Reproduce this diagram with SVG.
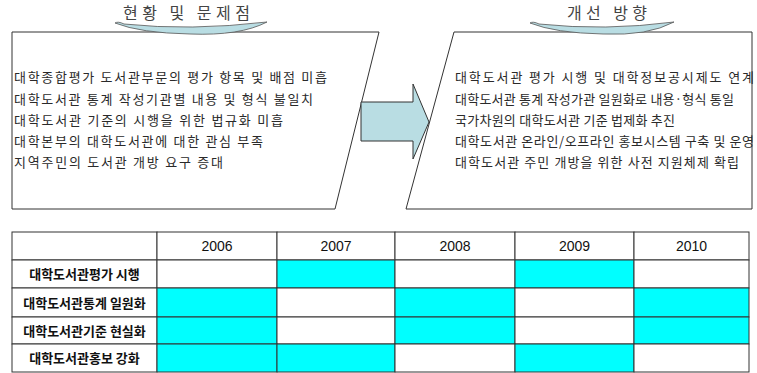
<svg xmlns="http://www.w3.org/2000/svg" width="757" height="373" viewBox="0 0 757 373">
<style>
.box{fill:#ffffff;stroke:#333333;stroke-width:1}
.swoosh{fill:#b9dde3;stroke:#555555;stroke-width:0.8}
.arrow{fill:#b9dde3;stroke:#333333;stroke-width:1}
.title{font-family:"Noto Sans CJK KR","Noto Sans",sans-serif;font-size:16px;fill:#444444}
.body{font-family:"Noto Sans CJK KR","Noto Sans",sans-serif;font-size:13px;fill:#2a2a2a}
.cell{stroke:#333333;stroke-width:1}
.on{fill:#00ffff}
.off{fill:#ffffff}
.yr{font-family:"Liberation Sans","Noto Sans CJK KR",sans-serif;font-size:14px;fill:#111111;text-anchor:middle}
.lbl{font-family:"Noto Sans CJK KR","Noto Sans",sans-serif;font-size:13px;font-weight:bold;fill:#111111;text-anchor:middle}
</style>
<rect width="757" height="373" fill="#ffffff"/>

<g id="current">
<path class="box" d="M12,32 L379,32 L335,209 L12,209 Z"/>
<path class="swoosh" d="M115,23 Q118,21 124,24 Q190,31 267,22 Q240,36 190,34 Q140,33 115,23 Z"/>
<text class="title" x="123" y="19" textLength="127" lengthAdjust="spacing">현황 및 문제점</text>
<text class="body" x="14" y="82" textLength="313" lengthAdjust="spacing">대학종합평가 도서관부문의 평가 항목 및 배점 미흡</text>
<text class="body" x="14" y="104" textLength="299" lengthAdjust="spacing">대학도서관 통계 작성기관별 내용 및 형식 불일치</text>
<text class="body" x="14" y="125" textLength="269" lengthAdjust="spacing">대학도서관 기준의 시행을 위한 법규화 미흡</text>
<text class="body" x="14" y="146" textLength="249" lengthAdjust="spacing">대학본부의 대학도서관에 대한 관심 부족</text>
<text class="body" x="14" y="167" textLength="209" lengthAdjust="spacing">지역주민의 도서관 개방 요구 증대</text>
</g>

<g id="direction">
<path class="box" d="M454,32 L752,32 L752,209 L406,209 Z"/>
<path class="swoosh" d="M530,23 Q533,21 539,24 Q605,31 674,22 Q648,36 603,34 Q555,33 530,23 Z"/>
<text class="title" x="567" y="19" textLength="80" lengthAdjust="spacing">개선 방향</text>
<text class="body" x="455" y="82" textLength="299" lengthAdjust="spacing">대학도서관 평가 시행 및 대학정보공시제도 연계</text>
<text class="body" x="455" y="104" textLength="279" lengthAdjust="spacing">대학도서관 통계 작성가관 일원화로 내용·형식 통일</text>
<text class="body" x="455" y="125" textLength="220" lengthAdjust="spacing">국가차원의 대학도서관 기준 법제화 추진</text>
<text class="body" x="455" y="146" textLength="299" lengthAdjust="spacing">대학도서관 온라인/오프라인 홍보시스템 구축 및 운영</text>
<text class="body" x="455" y="167" textLength="284" lengthAdjust="spacing">대학도서관 주민 개방을 위한 사전 지원체제 확립</text>
</g>

<g id="connectors">
<path class="arrow" d="M361,102 L413,102 L413,84 L429,122 L413,159 L413,141 L361,141 Z"/>
</g>

<g id="table">
<rect class="cell off" x="12" y="232" width="145" height="28"/>
<rect class="cell off" x="157" y="232" width="120" height="28"/>
<rect class="cell off" x="277" y="232" width="118" height="28"/>
<rect class="cell off" x="395" y="232" width="120" height="28"/>
<rect class="cell off" x="515" y="232" width="119" height="28"/>
<rect class="cell off" x="634" y="232" width="115" height="28"/>
<text class="yr" x="217" y="251">2006</text>
<text class="yr" x="336" y="251">2007</text>
<text class="yr" x="455" y="251">2008</text>
<text class="yr" x="574.5" y="251">2009</text>
<text class="yr" x="691.5" y="251">2010</text>
<line x1="12" y1="260.5" x2="749" y2="260.5" stroke="#888888" stroke-width="2"/>

<rect class="cell off" x="12" y="260" width="145" height="28"/>
<rect class="cell off" x="157" y="260" width="120" height="28"/>
<rect class="cell on" x="277" y="260" width="118" height="28"/>
<rect class="cell off" x="395" y="260" width="120" height="28"/>
<rect class="cell on" x="515" y="260" width="119" height="28"/>
<rect class="cell off" x="634" y="260" width="115" height="28"/>
<text class="lbl" x="84.5" y="279">대학도서관평가 시행</text>

<rect class="cell off" x="12" y="288" width="145" height="29"/>
<rect class="cell on" x="157" y="288" width="120" height="29"/>
<rect class="cell off" x="277" y="288" width="118" height="29"/>
<rect class="cell on" x="395" y="288" width="120" height="29"/>
<rect class="cell off" x="515" y="288" width="119" height="29"/>
<rect class="cell on" x="634" y="288" width="115" height="29"/>
<text class="lbl" x="84.5" y="307.5">대학도서관통계 일원화</text>

<rect class="cell off" x="12" y="317" width="145" height="27"/>
<rect class="cell on" x="157" y="317" width="120" height="27"/>
<rect class="cell off" x="277" y="317" width="118" height="27"/>
<rect class="cell on" x="395" y="317" width="120" height="27"/>
<rect class="cell off" x="515" y="317" width="119" height="27"/>
<rect class="cell on" x="634" y="317" width="115" height="27"/>
<text class="lbl" x="84.5" y="335.5">대학도서관기준 현실화</text>

<rect class="cell off" x="12" y="344" width="145" height="28"/>
<rect class="cell on" x="157" y="344" width="120" height="28"/>
<rect class="cell on" x="277" y="344" width="118" height="28"/>
<rect class="cell off" x="395" y="344" width="120" height="28"/>
<rect class="cell on" x="515" y="344" width="119" height="28"/>
<rect class="cell off" x="634" y="344" width="115" height="28"/>
<text class="lbl" x="84.5" y="363">대학도서관홍보 강화</text>
</g>
</svg>
